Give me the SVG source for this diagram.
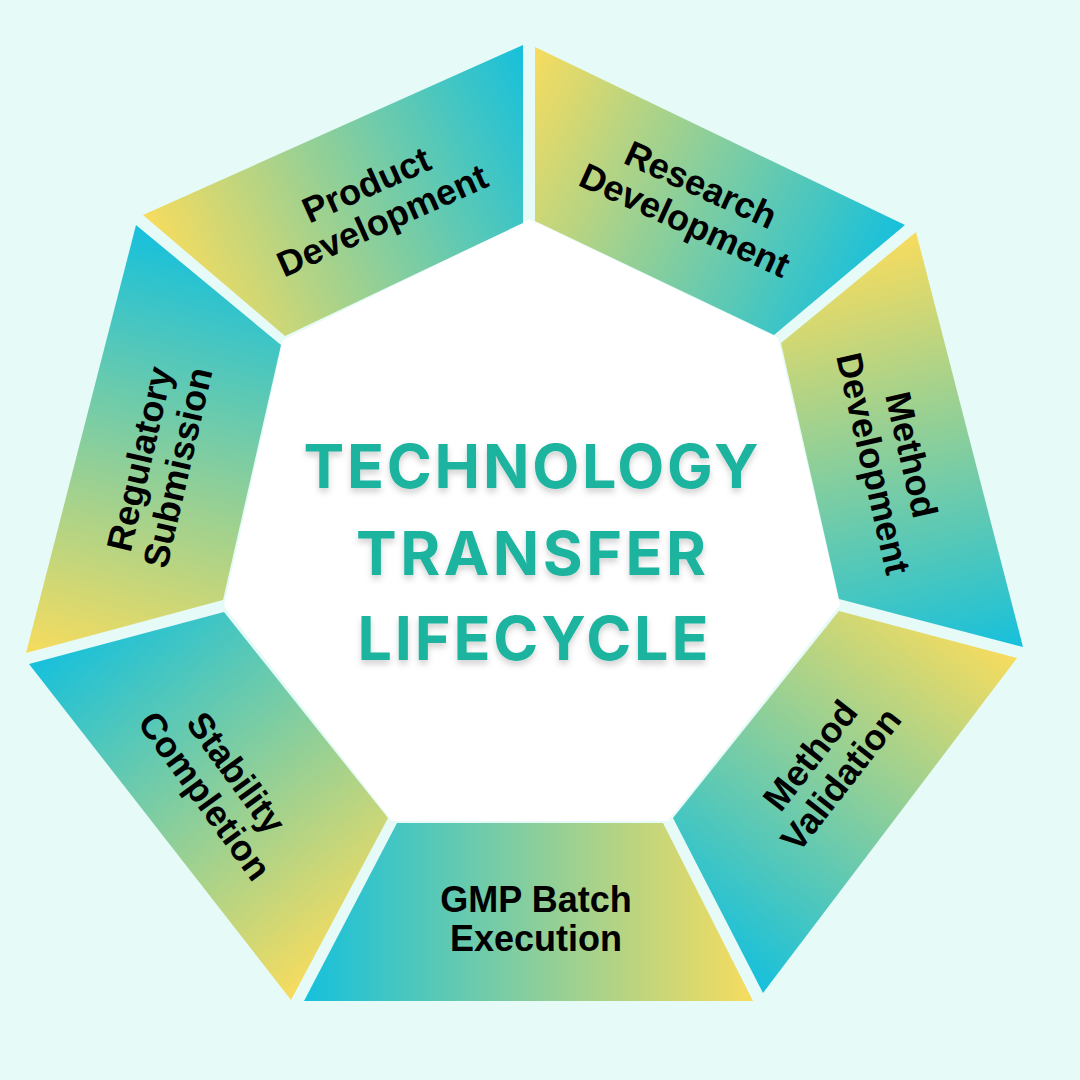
<svg xmlns="http://www.w3.org/2000/svg" width="1080" height="1080" viewBox="0 0 1080 1080">
  <defs>
    <linearGradient id="gProd" gradientUnits="userSpaceOnUse" x1="143" y1="215" x2="523" y2="45"><stop offset="0" stop-color="#F7DC5E"/><stop offset="1" stop-color="#16C0DC"/></linearGradient>
    <linearGradient id="gRes" gradientUnits="userSpaceOnUse" x1="535" y1="47" x2="905" y2="225"><stop offset="0" stop-color="#F7DC5E"/><stop offset="1" stop-color="#16C0DC"/></linearGradient>
    <linearGradient id="gMD" gradientUnits="userSpaceOnUse" x1="916" y1="232" x2="1023" y2="647"><stop offset="0" stop-color="#F7DC5E"/><stop offset="1" stop-color="#16C0DC"/></linearGradient>
    <linearGradient id="gMV" gradientUnits="userSpaceOnUse" x1="1017" y1="658" x2="763" y2="993"><stop offset="0" stop-color="#F7DC5E"/><stop offset="1" stop-color="#16C0DC"/></linearGradient>
    <linearGradient id="gGMP" gradientUnits="userSpaceOnUse" x1="753" y1="1000" x2="304" y2="1000"><stop offset="0" stop-color="#F7DC5E"/><stop offset="1" stop-color="#16C0DC"/></linearGradient>
    <linearGradient id="gStab" gradientUnits="userSpaceOnUse" x1="291" y1="1000" x2="29" y2="664"><stop offset="0" stop-color="#F7DC5E"/><stop offset="1" stop-color="#16C0DC"/></linearGradient>
    <linearGradient id="gReg" gradientUnits="userSpaceOnUse" x1="26" y1="653" x2="136" y2="225"><stop offset="0" stop-color="#F7DC5E"/><stop offset="1" stop-color="#16C0DC"/></linearGradient>
    <filter id="shadow" x="-10%" y="-30%" width="120%" height="160%">
      <feDropShadow dx="0" dy="4" stdDeviation="3" flood-color="#000" flood-opacity="0.18"/>
    </filter>
  </defs>
  <style>
    .lbl { font-family: "Liberation Sans", Arial, sans-serif; font-weight: 700; font-size: 36px; fill: #000; text-anchor: middle; }
    .title { font-family: Inter, "Liberation Sans", sans-serif; font-weight: 700; font-size: 61px; fill: #1DB39F; text-anchor: middle; }
  </style>
  <rect width="1080" height="1080" fill="#E6FAF7"/>
  <polygon id="center-fill" points="529,219 778,338 840,605 668,821 392,821 224,606 283,340" fill="#FFFFFF"/>

  <g id="product-development">
    <polygon points="143,215 523,45 523,223 285,336" fill="url(#gProd)"/>
    <g transform="translate(374,202) rotate(-24)">
      <text class="lbl" x="0" y="-6.5">Product</text>
      <text class="lbl" x="0" y="32.5">Development</text>
    </g>
  </g>

  <g id="research-development">
    <polygon points="535,47 905,225 774,335 535,221" fill="url(#gRes)"/>
    <g transform="translate(693,202) rotate(24.5)">
      <text class="lbl" x="0" y="-6.5">Research</text>
      <text class="lbl" x="0" y="32.5">Development</text>
    </g>
  </g>

  <g id="method-development">
    <polygon points="916,232 1023,647 839,599 781,343" fill="url(#gMD)"/>
    <g transform="translate(893,459) rotate(77)">
      <text class="lbl" x="0" y="-6.5">Method</text>
      <text class="lbl" x="0" y="32.5">Development</text>
    </g>
  </g>

  <g id="method-validation">
    <polygon points="1017,658 763,993 673,818 839,611" fill="url(#gMV)"/>
    <g transform="translate(825,767) rotate(-52)">
      <text class="lbl" x="0" y="-6.5">Method</text>
      <text class="lbl" x="0" y="32.5">Validation</text>
    </g>
  </g>

  <g id="gmp-batch-execution">
    <polygon points="753,1001 304,1001 397,823 663,823" fill="url(#gGMP)"/>
    <text class="lbl" x="536" y="912">GMP Batch</text>
    <text class="lbl" x="536" y="951">Execution</text>
  </g>

  <g id="stability-completion">
    <polygon points="291,1000 29,664 224,612 388,818" fill="url(#gStab)"/>
    <g transform="translate(221,784) rotate(54)">
      <text class="lbl" x="0" y="-6.5">Stability</text>
      <text class="lbl" x="0" y="32.5">Completion</text>
    </g>
  </g>

  <g id="regulatory-submission">
    <polygon points="26,653 136,225 281,345 223,600" fill="url(#gReg)"/>
    <g transform="translate(158,463) rotate(-77)">
      <text class="lbl" x="0" y="-6.5">Regulatory</text>
      <text class="lbl" x="0" y="32.5">Submission</text>
    </g>
  </g>

  <g id="title" filter="url(#shadow)">
    <text class="title" x="531" y="488" textLength="455" lengthAdjust="spacing">TECHNOLOGY</text>
    <text class="title" x="531" y="575" textLength="350" lengthAdjust="spacing">TRANSFER</text>
    <text class="title" x="533" y="660" textLength="351" lengthAdjust="spacing">LIFECYCLE</text>
  </g>
</svg>
